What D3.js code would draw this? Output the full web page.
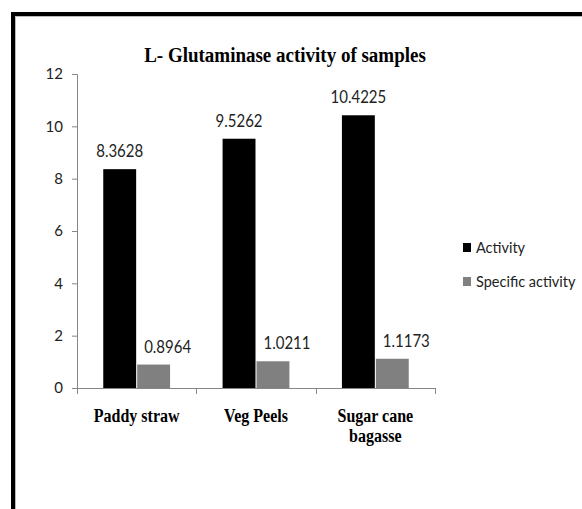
<!DOCTYPE html>
<html>
<head>
<meta charset="utf-8">
<script src="https://cdn.jsdelivr.net/npm/d3@7"></script>
<style>
  html, body { margin: 0; padding: 0; background: #fff; }
  svg { display: block; }
</style>
</head>
<body>
<script>
const title = "L- Glutaminase activity of samples";
const categories = ["Paddy straw", "Veg Peels", "Sugar cane bagasse"];
const seriesNames = ["Activity", "Specific activity"];
const activity = [8.3628, 9.5262, 10.4225];
const specificActivity = [0.8964, 1.0211, 1.1173];
const seriesColors = ["#000000", "#808080"];
const yTicks = [0, 2, 4, 6, 8, 10, 12];

const W = 582, H = 509;
const svg = d3.select("body").append("svg").attr("width", W).attr("height", H);

// outer frame (top + left thick border)
svg.append("path")
  .attr("d", `M13,${H} L13,14 L${W},14`)
  .attr("fill", "none").attr("stroke", "#000").attr("stroke-width", 4);
svg.append("path")
  .attr("d", `M15.5,${H} L15.5,16.5 L${W},16.5`)
  .attr("fill", "none").attr("stroke", "#bbb").attr("stroke-width", 1);

const plot = { left: 77, right: 435, top: 74, bottom: 388 };
const stretch = 1.15; // reference text looks vertically stretched

const y = d3.scaleLinear().domain([0, 12]).range([plot.bottom, plot.top]);
const x0 = d3.scaleBand().domain(categories).range([plot.left, plot.right])
  .paddingInner(0.44).paddingOuter(0.22);
const x1 = d3.scaleBand().domain(seriesNames).range([0, x0.bandwidth()]).paddingInner(0.03);

const data = categories.map((c, i) => ({
  cat: c,
  vals: [
    { s: seriesNames[0], v: activity[i], k: 0 },
    { s: seriesNames[1], v: specificActivity[i], k: 1 }
  ]
}));

function stretchedText(parent, x, yb, sy) {
  return parent.append("g")
    .attr("transform", `translate(${x},${yb}) scale(1,${sy})`)
    .append("text").attr("x", 0).attr("y", 0);
}

// title
stretchedText(svg, 285, 62, 1.08)
  .attr("text-anchor", "middle")
  .attr("font-family", "'Liberation Serif', 'Times New Roman', serif")
  .attr("font-weight", "bold").attr("font-size", 19)
  .attr("fill", "#000")
  .text(title);

// y axis
const yAxis = svg.append("g")
  .attr("transform", `translate(${plot.left},0)`)
  .call(d3.axisLeft(y).tickValues(yTicks).tickSize(5).tickPadding(9).tickFormat(d3.format("d")));
yAxis.select(".domain").attr("stroke", "#868686").attr("d", `M-5,${plot.top + 0.5}H0.5V${plot.bottom}`);
yAxis.selectAll(".tick line").attr("stroke", "#868686");
yAxis.selectAll(".tick text")
  .attr("font-family", "Lato, 'Open Sans', sans-serif")
  .attr("font-size", 15).attr("fill", "#222");

// bars
const groups = svg.append("g").selectAll("g").data(data).join("g")
  .attr("transform", d => `translate(${x0(d.cat)},0)`);

groups.selectAll("rect").data(d => d.vals).join("rect")
  .attr("x", d => x1(d.s))
  .attr("width", x1.bandwidth())
  .attr("y", d => y(d.v))
  .attr("height", d => y(0) - y(d.v))
  .attr("fill", d => seriesColors[d.k]);

groups.each(function (d) {
  const g = d3.select(this);
  d.vals.forEach(v => {
    stretchedText(g, x1(v.s) + x1.bandwidth() / 2 + (v.k === 1 ? 14 : 0), y(v.v) - 12, 1.1)
      .attr("text-anchor", "middle")
      .attr("font-family", "Lato, 'Open Sans', sans-serif")
      .attr("font-size", 15).attr("fill", "#222")
      .text(v.v.toFixed(4));
  });
});

// x axis
const xAxisG = svg.append("g").attr("transform", `translate(0,${plot.bottom})`);
xAxisG.append("line")
  .attr("x1", plot.left).attr("x2", plot.right)
  .attr("y1", 0.5).attr("y2", 0.5)
  .attr("stroke", "#868686");
const boundaries = categories.map(c => x0(c) - x0.step() * x0.paddingInner() / 2)
  .concat([plot.right]);
boundaries[0] = plot.left;
xAxisG.selectAll("line.tk").data(boundaries).join("line")
  .attr("class", "tk")
  .attr("x1", d => Math.round(d) + 0.5).attr("x2", d => Math.round(d) + 0.5)
  .attr("y1", 0).attr("y2", 6)
  .attr("stroke", "#868686");

// category labels (wrapped, slightly stretched vertically)
const maxW = 100;
categories.forEach(d => {
  const cx = x0(d) + x0.bandwidth() / 2;
  const t = stretchedText(xAxisG, cx, 34, stretch)
    .attr("text-anchor", "middle")
    .attr("font-family", "'Liberation Serif', 'Times New Roman', serif")
    .attr("font-weight", "bold").attr("font-size", 16)
    .attr("fill", "#000");
  const words = d.split(" ");
  let lines = [], line = [];
  const probe = t.append("tspan");
  words.forEach(w => {
    probe.text(line.concat([w]).join(" "));
    if (probe.node().getComputedTextLength() > maxW && line.length) {
      lines.push(line.join(" "));
      line = [w];
    } else {
      line.push(w);
    }
  });
  lines.push(line.join(" "));
  probe.remove();
  lines.forEach((l, i) => {
    t.append("tspan").attr("x", 0).attr("y", i * 20 / stretch).text(l);
  });
});

// legend
const legend = svg.append("g").attr("transform", "translate(463,0)");
const legendY = [247.5, 281.5];
seriesNames.forEach((s, i) => {
  legend.append("rect")
    .attr("x", 0).attr("y", legendY[i] - 4.5)
    .attr("width", 8).attr("height", 9)
    .attr("fill", seriesColors[i]);
  stretchedText(legend, 13, legendY[i] + 5, 1.1)
    .attr("font-family", "Lato, 'Open Sans', sans-serif")
    .attr("font-size", 14.5).attr("fill", "#222")
    .text(s);
});
</script>
</body>
</html>
